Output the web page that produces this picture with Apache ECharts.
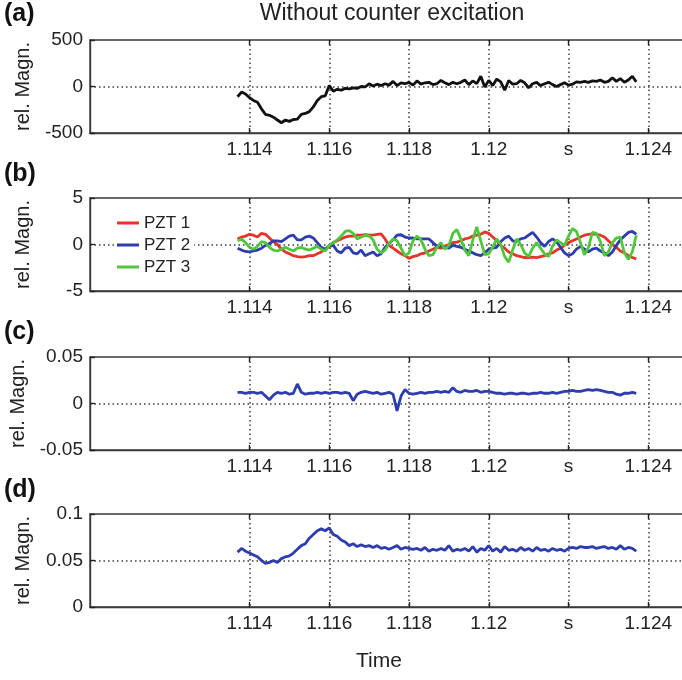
<!DOCTYPE html>
<html><head><meta charset="utf-8">
<script src="https://cdn.jsdelivr.net/npm/echarts@6/dist/echarts.min.js"></script>
<style>html,body{margin:0;padding:0;background:#fff}#c{width:682px;height:680px}</style>
</head><body><div id="c"></div>
<script>
// ---- data (time in s) ----
const times = [1.1137,1.1138,1.1139,1.1140,1.1141,1.1142,1.1143,1.1144,1.1145,1.1146,1.1147,1.1148,1.1149,1.1150,1.1151,1.1152,1.1153,1.1154,1.1155,1.1156,1.1157,1.1158,1.1159,1.1160,1.1161,1.1162,1.1163,1.1164,1.1165,1.1166,1.1167,1.1168,1.1169,1.1170,1.1171,1.1172,1.1173,1.1174,1.1175,1.1176,1.1177,1.1178,1.1179,1.1180,1.1181,1.1182,1.1183,1.1184,1.1185,1.1186,1.1187,1.1188,1.1189,1.1190,1.1191,1.1192,1.1193,1.1194,1.1195,1.1196,1.1197,1.1198,1.1199,1.1200,1.1201,1.1202,1.1203,1.1204,1.1205,1.1206,1.1207,1.1208,1.1209,1.1210,1.1211,1.1212,1.1213,1.1214,1.1215,1.1216,1.1217,1.1218,1.1219,1.1220,1.1221,1.1222,1.1223,1.1224,1.1225,1.1226,1.1227,1.1228,1.1229,1.1230,1.1231,1.1232,1.1233,1.1234,1.1235,1.1236,1.1237];

const panelA = [-110,-60,-80,-120,-150,-170,-240,-300,-310,-330,-360,-390,-360,-375,-355,-350,-300,-290,-270,-220,-150,-110,-100,10,-50,-30,-40,-20,-25,-15,-20,0,-5,30,5,25,10,30,15,55,10,40,30,45,15,60,25,
40,45,20,30,65,40,20,45,30,45,70,20,60,30,110,-5,65,10,80,50,-40,65,25,30,65,40,-15,30,45,10,30,45,20,0,20,40,15,25,50,45,55,45,60,55,70,45,55,95,55,85,45,70,110,50];

const pzt1 = [0.6,0.8,0.9,1.1,1.0,0.8,1.2,1.1,0.7,0.3,0.0,-0.5,-0.8,-1.0,-1.2,-1.3,-1.35,-1.3,-1.2,-1.2,-1.0,-0.8,-0.5,-0.1,0.2,0.4,0.6,0.8,0.9,0.9,1.0,1.0,1.05,1.0,1.0,1.1,1.15,0.6,-0.1,-0.4,-0.7,-1.0,-1.2,-1.5,-1.3,-1.2,-1.0,-0.9,-0.7,-0.5,-0.3,
-0.4,-0.2,0.0,0.2,0.25,0.4,0.6,0.7,0.9,1.0,1.1,1.35,1.2,0.8,0.4,-0.1,-0.4,-0.8,-1.0,-1.2,-1.3,-1.4,-1.4,-1.35,-1.4,-1.3,-1.2,-1.0,-0.9,-0.6,-0.4,-0.1,0.2,0.4,0.6,0.8,1.0,1.1,1.15,1.1,1.0,0.8,0.4,0.0,-0.3,-0.7,-0.9,-1.2,-1.4,-1.55];

const pzt2 = [-0.4,-0.6,-0.75,-0.8,-0.7,-0.6,-0.4,-0.1,0.1,0.4,0.4,0.3,0.6,0.9,1.0,0.5,0.5,0.8,0.9,0.7,0.2,-0.3,-0.5,-0.2,-0.1,-0.7,-0.9,-0.4,-0.3,-0.9,-1.0,-0.6,-1.2,-1.0,-0.8,-1.2,-1.0,-0.3,0.1,0.5,1.0,1.05,0.8,0.7,0.7,0.6,0.6,0.6,0.6,0.2,-0.2,
-0.1,-0.3,-0.4,-0.1,-0.2,-0.3,-0.5,-0.7,-0.9,-1.1,-1.2,-0.9,-0.5,-0.4,-0.3,0.3,0.7,0.9,0.4,0.3,0.6,0.7,1.0,1.3,0.8,0.2,-0.2,0.3,0.6,0.3,-0.3,-0.9,-1.2,-1.0,-0.5,-0.2,-0.5,-0.8,-0.5,-0.4,-0.7,-0.9,-1.2,-0.8,-0.1,0.5,0.9,1.3,1.4,1.1];

const pzt3 = [0.4,0.6,0.2,-0.3,-0.5,-0.2,0.3,0.2,-0.3,-0.6,-0.7,-0.5,-0.3,-0.5,-0.7,-0.4,-0.3,-0.5,-0.6,-0.4,-0.2,-0.5,-0.7,-0.1,0.2,0.5,0.9,1.4,1.5,1.2,0.6,0.8,1.0,0.9,0.5,-0.5,-0.9,-0.6,0.1,0.6,0.4,-0.4,-1.2,-0.9,0.4,0.9,0.5,-0.5,-1.2,-1.1,-0.3,
0.2,-0.5,-0.1,1.2,1.6,0.6,-0.6,-1.2,0.5,1.9,0.4,-1.1,-1.0,-0.3,0.6,0.0,-1.3,-1.9,-0.6,0.6,0.0,-0.9,-1.3,-0.4,0.2,-0.4,-1.0,-1.3,-0.2,0.5,0.2,-0.1,0.9,1.7,1.4,0.2,-1.1,-0.3,1.3,1.2,0.3,-1.2,-0.8,0.2,0.7,0.8,-0.9,-1.6,-0.8,1.0];

const panelC = [0.012,0.012,0.011,0.012,0.012,0.011,0.012,0.008,0.004,0.009,0.012,0.011,0.012,0.010,0.011,0.021,0.012,0.010,0.011,0.011,0.012,0.011,0.012,0.011,0.012,0.012,0.011,0.012,0.011,0.003,0.010,0.012,0.013,0.012,0.011,0.012,0.010,0.011,0.012,0.010,-0.008,0.008,0.015,0.011,0.010,0.011,0.012,0.011,0.012,0.012,0.013,
0.012,0.013,0.012,0.017,0.013,0.012,0.014,0.013,0.013,0.014,0.012,0.013,0.013,0.012,0.011,0.011,0.010,0.011,0.011,0.010,0.011,0.011,0.010,0.011,0.011,0.012,0.011,0.011,0.012,0.011,0.012,0.013,0.013,0.014,0.013,0.013,0.014,0.015,0.014,0.015,0.014,0.013,0.012,0.012,0.010,0.009,0.011,0.011,0.012,0.011];

const panelD = [0.059,0.063,0.060,0.058,0.056,0.054,0.050,0.047,0.048,0.050,0.048,0.052,0.054,0.055,0.058,0.062,0.066,0.068,0.074,0.078,0.082,0.084,0.082,0.085,0.078,0.076,0.072,0.070,0.066,0.068,0.065,0.067,0.065,0.066,0.064,0.066,0.063,0.064,0.062,0.064,0.066,0.062,0.064,0.063,0.062,0.063,0.061,0.064,0.060,0.062,0.061,
0.063,0.061,0.066,0.060,0.062,0.061,0.063,0.060,0.065,0.059,0.063,0.061,0.066,0.060,0.063,0.059,0.065,0.061,0.062,0.060,0.064,0.061,0.063,0.060,0.064,0.061,0.062,0.060,0.063,0.061,0.062,0.060,0.063,0.064,0.063,0.065,0.064,0.064,0.065,0.063,0.064,0.065,0.063,0.064,0.062,0.066,0.062,0.064,0.063,0.060];

// axis ticks / labels
const xTickValues = [1.114,1.116,1.118,1.120,1.122,1.124,1.126];
const xTickLabels = ['1.114','1.116','1.118','1.12','s','1.124',''];
const yRanges = [[-500,500,500],[-5,5,5],[-0.05,0.05,0.05],[0,0.1,0.05]];
const panelLetters = ['(a)','(b)','(c)','(d)'];
const seriesNames = ['PZT 1','PZT 2','PZT 3'];
const titleText = 'Without counter excitation';
const yName = 'rel. Magn.';
const xName = 'Time';

// ---- layout / style ----
const FONT = 'Liberation Sans, Arial, sans-serif';
const tops = [40,198,357,514];
const H = 93;
const gridCol = '#3c3c3c';
const dotStyle = {color: gridCol, width: 1.5, type: [1.5, 3]};
const T = 'rgba(0,0,0,0)';

const chart = echarts.init(document.getElementById('c'));
const pair = arr => times.map((t,i)=>[t, arr[i]]);

const grid = tops.map(t=>({left:90, width:638, top:t, height:H, show:true, borderColor:'#3a3a3a', borderWidth:1.4,
  containLabel:false, outerBoundsMode:'none'}));
const xAxis = [], yAxis = [];
tops.forEach((t,k)=>{
  xAxis.push({type:'value', gridIndex:k, min:1.110, max:1.126, interval:0.002, position:'bottom',
    axisLine:{show:true, onZero:false, lineStyle:{color:'#3a3a3a', width:1.4}},
    axisTick:{show:true, inside:true, length:5, customValues:xTickValues, lineStyle:{color:'#222', width:1.4}},
    axisLabel:{show:true, customValues:xTickValues, fontFamily:FONT, fontSize:19, color:'#222', margin:7,
      formatter:v=>{const j=xTickValues.findIndex(x=>Math.abs(x-v)<1e-7); return j>=0?xTickLabels[j]:'';}},
    splitLine:{show:true, lineStyle:dotStyle}
  });
  xAxis.push({type:'value', gridIndex:k, min:1.110, max:1.126, interval:0.002, position:'top',
    axisLine:{show:false, onZero:false}, axisLabel:{show:false}, splitLine:{show:false},
    axisTick:{show:true, inside:true, length:5, customValues:xTickValues, lineStyle:{color:'#222', width:1.4}}});
  const r = yRanges[k];
  yAxis.push({type:'value', gridIndex:k, min:r[0], max:r[1], interval:r[2],
    axisLine:{show:true, onZero:false, lineStyle:{color:'#3a3a3a', width:1.4}},
    axisTick:{show:true, inside:true, length:5, lineStyle:{color:'#222', width:1.4}},
    axisLabel:{fontFamily:FONT, fontSize:19, color:'#222', margin:7},
    splitLine:{show:true, lineStyle:Object.assign({}, dotStyle, {color:[T,gridCol,T]})},
    name:yName, nameLocation:'middle', nameRotate:90, nameGap:57,
    nameTextStyle:{fontFamily:FONT, fontSize:20, color:'#222'}
  });
});

const lw = 2.8;
const series = [
  {name:'A', type:'line', xAxisIndex:0, yAxisIndex:0, data:pair(panelA), showSymbol:false, lineStyle:{color:'#111', width:lw}, itemStyle:{color:'#111'}},
  {name:seriesNames[0], type:'line', xAxisIndex:2, yAxisIndex:1, data:pair(pzt1), showSymbol:false, lineStyle:{color:'#e8332a', width:lw}, itemStyle:{color:'#e8332a'}},
  {name:seriesNames[1], type:'line', xAxisIndex:2, yAxisIndex:1, data:pair(pzt2), showSymbol:false, lineStyle:{color:'#2d3caf', width:lw}, itemStyle:{color:'#2d3caf'}},
  {name:seriesNames[2], type:'line', xAxisIndex:2, yAxisIndex:1, data:pair(pzt3), showSymbol:false, lineStyle:{color:'#4ec73b', width:lw}, itemStyle:{color:'#4ec73b'}},
  {name:'C', type:'line', xAxisIndex:4, yAxisIndex:2, data:pair(panelC), showSymbol:false, lineStyle:{color:'#2d3caf', width:lw}, itemStyle:{color:'#2d3caf'}},
  {name:'D', type:'line', xAxisIndex:6, yAxisIndex:3, data:pair(panelD), showSymbol:false, lineStyle:{color:'#2d3caf', width:lw}, itemStyle:{color:'#2d3caf'}}
];

const graphic = [
  {type:'text', x:392, y:2, style:{text:titleText, font:'23px '+FONT, fill:'#222', align:'center'}},
  {type:'text', x:379, y:651, style:{text:xName, font:'21px '+FONT, fill:'#222', align:'center'}}
].concat(panelLetters.map((s,k)=>({type:'text', x:4, y:[2,162,320,478][k], style:{text:s, font:'bold 25px '+FONT, fill:'#111'}})));

chart.setOption({
  animation:false,
  backgroundColor:'#fff',
  grid, xAxis, yAxis, series, graphic,
  legend:{data:seriesNames, orient:'vertical', left:114, top:213, itemWidth:22, itemHeight:3, icon:'rect', itemGap:4,
    backgroundColor:'#fff', padding:[1,4,1,3],
    textStyle:{fontFamily:FONT, fontSize:17, color:'#222', lineHeight:18}}
});
</script></body></html>
